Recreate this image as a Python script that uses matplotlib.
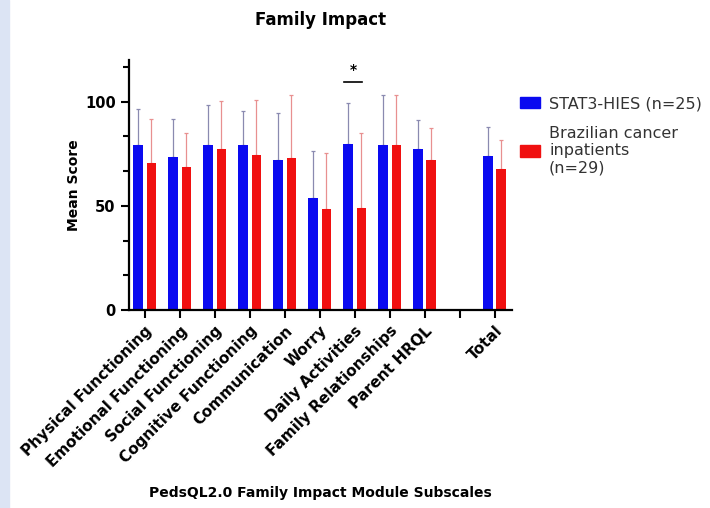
import matplotlib.pyplot as plt
import numpy as np
from matplotlib.ticker import MultipleLocator

# category axis: slot 9 is left empty before "Total"
categories = ['Physical Functioning', 'Emotional Functioning', 'Social Functioning',
              'Cognitive Functioning', 'Communication', 'Worry', 'Daily Activities',
              'Family Relationships', 'Parent HRQL', '', 'Total']
stat3_mean = [79.4, 73.5, 79.4, 79.4, 72.0, 53.7, 79.8, 79.4, 77.5, np.nan, 74.1]
stat3_sd = [16.9, 18.1, 19.0, 16.2, 22.4, 22.5, 19.6, 23.6, 13.5, np.nan, 13.7]
cancer_mean = [70.6, 68.7, 77.1, 74.6, 72.9, 48.4, 48.9, 79.4, 72.0, np.nan, 67.8]
cancer_sd = [21.1, 16.1, 23.2, 26.2, 30.1, 27.0, 36.0, 23.6, 15.3, np.nan, 13.6]

blue = '#0a0af0'
red = '#f01010'

fig = plt.figure(figsize=(7.1, 5.08), dpi=100)
fig.patches.append(plt.Rectangle((0, 0), 9 / 710, 1, transform=fig.transFigure,
                                 color='#dce4f4', zorder=0))
ax = fig.add_axes([129 / 710, 1 - 310 / 508, 383 / 710, 250 / 508])

x = np.arange(len(categories))
w = 0.27
off = 0.19
ax.bar(x - off, stat3_mean, w, color=blue, zorder=2)
ax.bar(x + off, cancer_mean, w, color=red, zorder=2)
ax.errorbar(x - off, stat3_mean, yerr=[np.zeros(len(x)), stat3_sd], fmt='none',
            ecolor='#8a8ab0', elinewidth=0.9, capsize=1.5, capthick=0.9, zorder=1)
ax.errorbar(x + off, cancer_mean, yerr=[np.zeros(len(x)), cancer_sd], fmt='none',
            ecolor='#e89090', elinewidth=0.9, capsize=1.5, capthick=0.9, zorder=1)

# significance mark over Daily Activities
ax.plot([6 - 0.3, 6 + 0.22], [109.5, 109.5], color='black', lw=1.2)
ax.text(6 - 0.04, 115.3, '*', ha='center', va='center', fontsize=10, fontweight='bold')

ax.set_xlim(-0.45, 10.5)
ax.set_ylim(0, 120)
ax.yaxis.set_major_locator(MultipleLocator(50))
ax.yaxis.set_minor_locator(MultipleLocator(50 / 3))
ax.set_xticks(x)
ax.set_xticklabels(categories, rotation=45, ha='right', rotation_mode='anchor',
                   fontsize=11, fontweight='bold')
for lbl in ax.get_yticklabels():
    lbl.set_fontweight('bold')
ax.tick_params(axis='y', which='major', length=6, width=1.5, labelsize=10.5)
ax.tick_params(axis='y', which='minor', length=4, width=1.5)
ax.tick_params(axis='x', length=6, width=1.5)
for s in ['top', 'right']:
    ax.spines[s].set_visible(False)
for s in ['left', 'bottom']:
    ax.spines[s].set_linewidth(1.6)

ax.set_ylabel('Mean Score', fontsize=10, fontweight='bold', labelpad=3)
ax.set_xlabel('PedsQL2.0 Family Impact Module Subscales', fontsize=10,
              fontweight='bold', labelpad=12)
ax.set_title('Family Impact', fontsize=12, fontweight='bold', pad=25)

handles = [plt.Rectangle((0, 0), 1, 1, color=blue), plt.Rectangle((0, 0), 1, 1, color=red)]
leg = ax.legend(handles, ['STAT3-HIES (n=25)', 'Brazilian cancer\ninpatients\n(n=29)'],
                loc='upper left', bbox_to_anchor=(1.003, 0.88), frameon=False,
                fontsize=11.5, handlelength=1.25, handleheight=0.7, handletextpad=0.6,
                labelspacing=0.9, borderaxespad=0)
for t in leg.get_texts():
    t.set_color('#333333')

fig.savefig('out.png', dpi=100)
